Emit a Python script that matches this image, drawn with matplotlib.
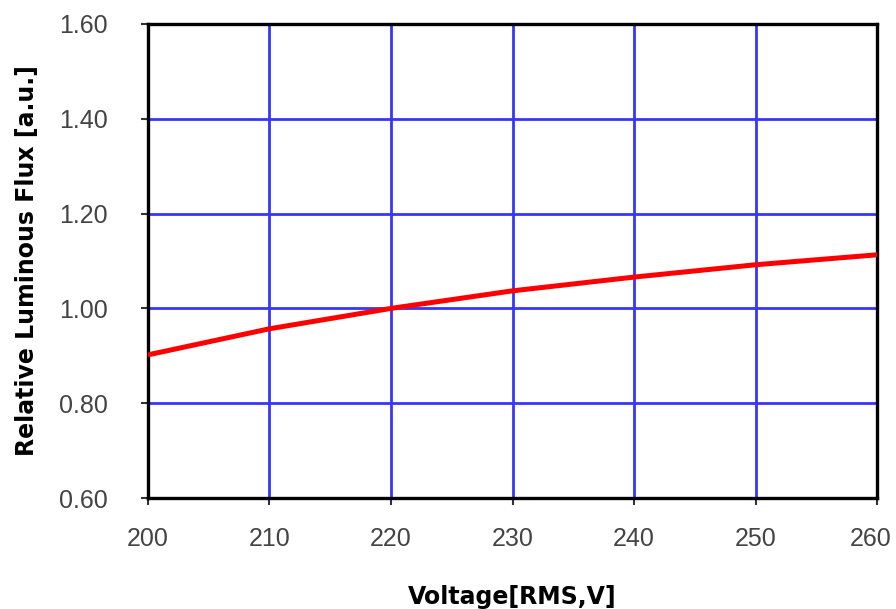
import matplotlib
matplotlib.use('Agg')
from matplotlib import pyplot as plt
from matplotlib.transforms import ScaledTranslation

voltage = [200, 210, 220, 230, 240, 250, 260]
flux = [0.902, 0.957, 1.000, 1.037, 1.066, 1.092, 1.113]
xticks = [200, 210, 220, 230, 240, 250, 260]
yticks = [0.60, 0.80, 1.00, 1.20, 1.40, 1.60]

plt.rcParams['font.family'] = ['Liberation Sans', 'DejaVu Sans']

fig = plt.figure(figsize=(8.96, 6.09), dpi=100)
ax = fig.add_axes([0.165, 0.182, 0.814, 0.779])

ax.plot(voltage, flux, color='#ff0000', linewidth=3.6, solid_capstyle='butt', zorder=3)

ax.set_xlim(200, 260)
ax.set_ylim(0.6, 1.6)
ax.set_xticks(xticks)
ax.set_yticks(yticks)
ax.set_yticklabels(['%.2f' % v for v in yticks])
ax.grid(True, color='#3535ff', linewidth=2)
ax.set_axisbelow(True)

for s in ax.spines.values():
	s.set_color('black')
	s.set_linewidth(2.4)

ax.tick_params(axis='both', direction='out', length=5, width=1.5, colors='#333333',
	labelcolor='#444444', labelsize=18)
ax.tick_params(axis='x', pad=16)
ax.tick_params(axis='y', pad=24)

# last x label sits a bit inside the figure edge
last = ax.get_xticklabels()[-1]
last.set_transform(last.get_transform() + ScaledTranslation(-7/100, 0, fig.dpi_scale_trans))

# wider bold face for axis titles
ax.set_xlabel('Voltage[RMS,V]', fontsize=17, fontweight='bold', family='DejaVu Sans', labelpad=24)
ax.set_ylabel('Relative Luminous Flux [a.u.]', fontsize=17, fontweight='bold', family='DejaVu Sans', labelpad=14)

fig.savefig('out.png', dpi=100)
